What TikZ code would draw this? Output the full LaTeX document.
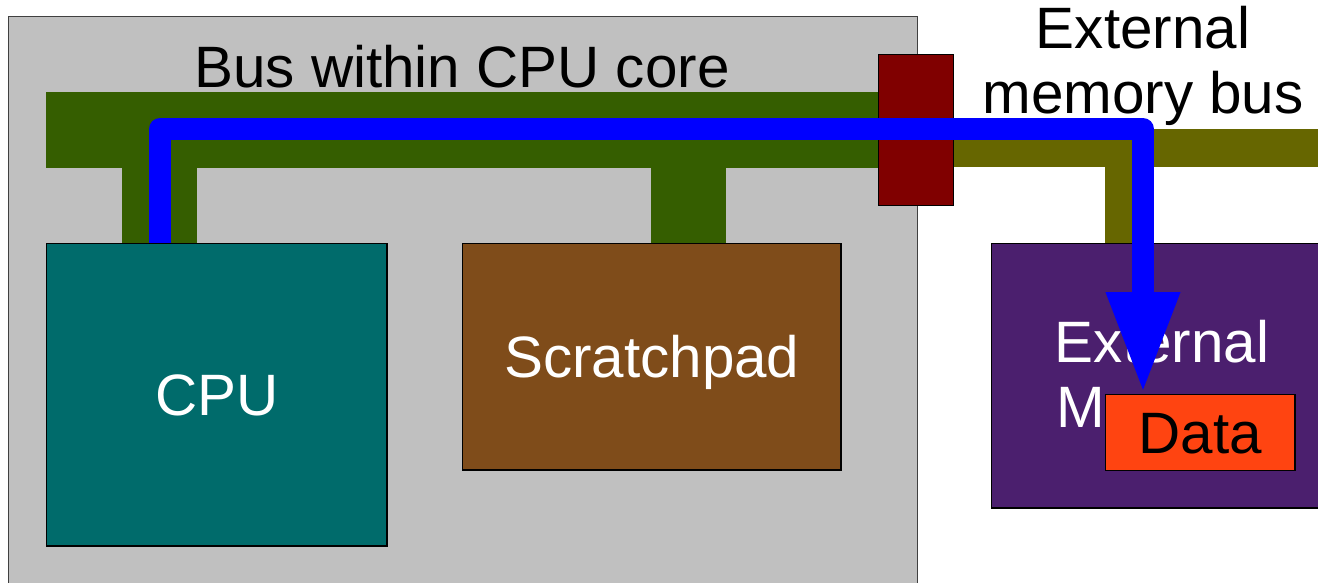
\documentclass[tikz,border=0pt]{standalone}
\usepackage{fontspec}
\setmainfont{Liberation Sans}
\usepackage{tikz}
\usetikzlibrary{
	arrows.meta,
	positioning,
	calc
}
\usepackage{xcolor}

\definecolor{coregray}{HTML}{C0C0C0}
\definecolor{busgreen}{HTML}{355E00}
\definecolor{busolive}{HTML}{666600}
\definecolor{bridgered}{HTML}{800000}
\definecolor{cputeal}{HTML}{006B6B}
\definecolor{padbrown}{HTML}{7F4C1A}
\definecolor{mempurple}{HTML}{4B1F6E}
\definecolor{dataorange}{HTML}{FF4411}
\definecolor{flowblue}{HTML}{0000FF}

\newcommand{\bigfont}{\fontsize{16.6}{18.6}\selectfont}

\tikzset{
	block/.style={draw=black, line width=0.4pt, anchor=north west,
		inner sep=0pt, text=white, font=\bigfont,
		text height=11.9pt, text depth=0pt},
	flow/.style={draw=flowblue, line width=6.26pt, line join=round,
		-{Triangle[width=19.3pt,length=29pt]}}
}

\begin{document}
\begin{tikzpicture}[x=0.01cm, y=-0.01cm]
		
		% Frame
		\useasboundingbox (0,0) rectangle (1318,583);
		\clip (0,0) rectangle (1318,583);
		
		% CPU core
		\node[block, draw=black!75, fill=coregray,
		minimum width=9.08cm, minimum height=5.9cm] (core) at (8,16) {};
		
		% Buses
		\fill[busgreen] (46,92) rectangle (915,168);
		\fill[busgreen] (122,167) rectangle (197,243);
		\fill[busgreen] (651,167) rectangle (726,243);
		\fill[busolive] (915,129) rectangle (1318,167);
		\fill[busolive] (1105,166) rectangle (1140,243);
		
		% Blocks
		\node[block, fill=cputeal,
		minimum width=3.40cm, minimum height=3.02cm] (cpu) at (46,243) {CPU};
		\node[block, fill=padbrown,
		minimum width=3.78cm, minimum height=2.26cm] (pad) at (462,243) {Scratchpad};
		\node[block, fill=mempurple,
		minimum width=3.42cm, minimum height=2.64cm] (mem) at (991,243) {};
		\node[block, fill=bridgered,
		minimum width=0.75cm, minimum height=1.51cm] (bridge) at (878,54) {};
		
		\node[align=center, text=white, font=\bigfont] (memtext) at (1162,380)
		{External\\Memory};
		
		\node[block, fill=dataorange, text=black,
		minimum width=1.89cm, minimum height=0.76cm] (data) at (1105,394) {Data};
		
		% Data path
		\coordinate (flowstart) at ([xshift=1.14cm]cpu.north west);
		\coordinate (flowturn) at (1143,129);
		\draw[flow] (flowstart) |- (flowturn) -- (data.north -| flowturn);
		
		% Labels
		\node[anchor=base, font=\bigfont] (corebus) at (462,88) {Bus within CPU core};
		\node[align=center, font=\bigfont] (extbus) at (1143,66)
		{External\\memory bus};
		
	\end{tikzpicture}
\end{document}
